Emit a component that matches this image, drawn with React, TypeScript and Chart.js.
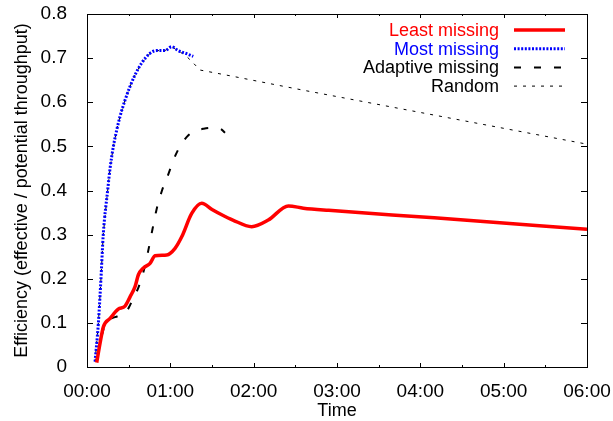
import { useEffect, useRef } from 'react';
import { Chart, registerables } from 'chart.js';

Chart.register(...registerables);

const FONT = '"Liberation Sans", Arial, Helvetica, sans-serif';

// x in minutes since 00:00
const xTickMinutes = [0, 60, 120, 180, 240, 300, 360];
const yTickValues = [0, 0.1, 0.2, 0.3, 0.4, 0.5, 0.6, 0.7, 0.8];

const seriesLabels = ['Least missing', 'Most missing', 'Adaptive missing', 'Random'];
const seriesColors = ['#ff0000', '#0000ff', '#000000', '#000000'];

const leastT = [7, 9.4, 11.8, 16.6, 22.5, 27.4, 31, 34.6, 37, 40.5, 45.4, 49, 57.4, 63.4, 68.2, 75.4, 82.6, 90, 97, 105, 118.6, 130.5, 145, 155.8, 174, 250, 360];
const leastV = [0.01, 0.054, 0.091, 0.11, 0.131, 0.138, 0.159, 0.182, 0.209, 0.224, 0.235, 0.252, 0.254, 0.269, 0.295, 0.348, 0.371, 0.357, 0.345, 0.333, 0.318, 0.333, 0.365, 0.36, 0.355, 0.338, 0.312];

const mostT = [5.8, 8.2, 10, 11.7, 14.9, 16.6, 19, 21.4, 23.8, 27.4, 31, 34.6, 39.4, 45.4, 50, 56, 61, 65.7, 71.8, 76.5];
const mostV = [0.012, 0.1, 0.197, 0.3, 0.401, 0.45, 0.5, 0.537, 0.568, 0.605, 0.636, 0.662, 0.689, 0.711, 0.717, 0.717, 0.726, 0.717, 0.71, 0.704];

const adaptiveT = [7, 9.4, 11.8, 13, 17, 22, 27, 30, 34, 37, 41, 44, 47, 50, 54, 58, 61, 64, 68, 73, 78, 84, 90, 96, 99.4];
const adaptiveV = [0.01, 0.054, 0.085, 0.099, 0.109, 0.115, 0.122, 0.134, 0.161, 0.18, 0.22, 0.262, 0.31, 0.356, 0.4, 0.432, 0.458, 0.482, 0.505, 0.525, 0.535, 0.54, 0.542, 0.54, 0.531];

const randomT = [5.8, 8.2, 10, 11.7, 14.9, 16.6, 19, 21.4, 23.8, 27.4, 31, 34.6, 39.4, 45.4, 50, 56, 61, 65.7, 72, 76.5, 81.4, 103, 132, 154.6, 360];
const randomV = [0.012, 0.1, 0.197, 0.3, 0.401, 0.45, 0.5, 0.537, 0.568, 0.605, 0.636, 0.662, 0.689, 0.711, 0.717, 0.717, 0.726, 0.717, 0.703, 0.689, 0.673, 0.66, 0.642, 0.628, 0.505];

const seriesStyles = [
  { width: 3.5, dash: [] as number[], tension: 0.4, offset: 0 },
  { width: 3, dash: [2, 1.6], tension: 0.4, offset: 0 },
  { width: 2, dash: [7, 13], tension: 0.4, offset: 12 },
  { width: 1, dash: [3, 6], tension: 0, offset: 0 },
];

const toPoints = (t: number[], v: number[]) => t.map((x, i) => ({ x, y: v[i] }));

const fmtTime = (m: number) => {
  const h = Math.floor(m / 60);
  const mm = Math.round(m % 60);
  return `${String(h).padStart(2, '0')}:${String(mm).padStart(2, '0')}`;
};

const zeroPad = (s: any) => {
  s.paddingTop = 0;
  s.paddingBottom = 0;
  s.paddingLeft = 0;
  s.paddingRight = 0;
};

const framePlugin = {
  id: 'frame',
  afterDatasetsDraw(chart: any) {
    const { ctx, chartArea: a, scales } = chart;
    const xs = scales.x;
    const ys = scales.y;
    ctx.save();
    ctx.strokeStyle = '#000';
    ctx.lineWidth = 1;
    ctx.setLineDash([]);
    ctx.strokeRect(a.left + 0.5, a.top + 0.5, a.width, a.height);
    ctx.beginPath();
    for (let m = 0; m <= 360; m += 30) {
      const px = Math.round(xs.getPixelForValue(m)) + 0.5;
      const len = m % 60 === 0 ? 4 : 2;
      ctx.moveTo(px, a.bottom);
      ctx.lineTo(px, a.bottom - len);
      ctx.moveTo(px, a.top);
      ctx.lineTo(px, a.top + len);
    }
    yTickValues.forEach((v) => {
      const py = Math.round(ys.getPixelForValue(v)) + 0.5;
      ctx.moveTo(a.left, py);
      ctx.lineTo(a.left + 6, py);
      ctx.moveTo(a.right, py);
      ctx.lineTo(a.right - 6, py);
    });
    ctx.stroke();

    // legend
    ctx.font = `18px ${FONT}`;
    ctx.textAlign = 'right';
    ctx.textBaseline = 'middle';
    chart.data.datasets.forEach((ds: any, i: number) => {
      const y = a.top + 16 + i * 18.7;
      ctx.fillStyle = seriesColors[i];
      ctx.fillText(ds.label, a.right - 88, y + 1);
      ctx.beginPath();
      ctx.strokeStyle = seriesColors[i];
      ctx.lineWidth = seriesStyles[i].width;
      ctx.setLineDash(seriesStyles[i].dash);
      ctx.moveTo(a.right - 73, y);
      ctx.lineTo(a.right - 22, y);
      ctx.stroke();
    });
    ctx.setLineDash([]);

    // axis titles
    ctx.fillStyle = '#000';
    ctx.textAlign = 'center';
    ctx.fillText('Time', (a.left + a.right) / 2, 411);
    ctx.translate(22, (a.top + a.bottom) / 2);
    ctx.rotate(-Math.PI / 2);
    ctx.fillText('Efficiency (effective / potential throughput)', 0, 0);
    ctx.restore();
  },
};

export default function App() {
  const ref = useRef<HTMLCanvasElement>(null);
  useEffect(() => {
    const datasets = [
      toPoints(leastT, leastV),
      toPoints(mostT, mostV),
      toPoints(adaptiveT, adaptiveV),
      toPoints(randomT, randomV),
    ].map((data, i) => ({
      label: seriesLabels[i],
      data,
      borderColor: seriesColors[i],
      backgroundColor: seriesColors[i],
      borderWidth: seriesStyles[i].width,
      borderDash: seriesStyles[i].dash,
      borderDashOffset: seriesStyles[i].offset,
      pointRadius: 0,
      fill: false,
      tension: seriesStyles[i].tension,
      cubicInterpolationMode: (seriesStyles[i].tension > 0 ? 'monotone' : 'default') as any,
    }));
    const chart = new Chart(ref.current!, {
      type: 'line',
      data: { datasets },
      plugins: [framePlugin],
      options: {
        responsive: false,
        animation: false,
        layout: { padding: { top: 14, right: 26, left: 0, bottom: 0 } },
        plugins: { legend: { display: false }, tooltip: { enabled: false } },
        scales: {
          x: {
            type: 'linear',
            min: 0,
            max: 360,
            afterFit: (s: any) => { s.height = 54; zeroPad(s); },
            afterBuildTicks: (s: any) => { s.ticks = xTickMinutes.map((v) => ({ value: v })); },
            grid: { display: false },
            border: { display: false },
            ticks: {
              color: '#000',
              font: { family: FONT, size: 19 },
              padding: 5,
              maxRotation: 0,
              autoSkip: false,
              callback: (v: any) => fmtTime(Number(v)),
            },
          },
          y: {
            type: 'linear',
            min: 0,
            max: 0.8,
            afterFit: (s: any) => { s.width = 87; zeroPad(s); },
            afterBuildTicks: (s: any) => { s.ticks = yTickValues.map((v) => ({ value: v })); },
            grid: { display: false },
            border: { display: false },
            ticks: {
              color: '#000',
              font: { family: FONT, size: 19 },
              padding: 12,
              autoSkip: false,
              callback: (v: any) => (Number(v) === 0 ? '0' : Number(v).toFixed(1)),
            },
          },
        },
      },
    });
    return () => chart.destroy();
  }, []);
  return (
    <div style={{ position: 'fixed', left: 0, top: 0, width: 613, height: 421, background: '#fff' }}>
      <canvas ref={ref} width={613} height={421} style={{ display: 'block' }} />
    </div>
  );
}
